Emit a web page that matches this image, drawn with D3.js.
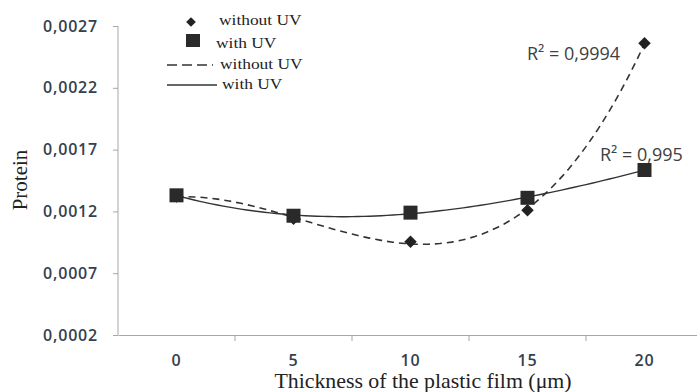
<!DOCTYPE html>
<html>
<head>
<meta charset="utf-8">
<script src="https://cdn.jsdelivr.net/npm/d3@7"></script>
<style>
  body { margin: 0; background: #fff; }
  svg { display: block; }
  .tick-lbl { font-family: "Open Sans", sans-serif; font-size: 16px; font-weight: 600; letter-spacing: 0.8px; fill: #33404f; }
  .r2 { font-family: "Open Sans", sans-serif; font-size: 18px; fill: #404040; }
  .serif { font-family: "Liberation Serif", "Times New Roman", serif; fill: #222; }
</style>
</head>
<body>
<svg id="chart" width="697" height="392"></svg>
<script>
const categories = ["0", "5", "10", "15", "20"];
const withoutUV = [0.00132, 0.00114, 0.000955, 0.00121, 0.00256];
const withUV = [0.00133, 0.001165, 0.00119, 0.00131, 0.001535];
const yTicks = [0.0002, 0.0007, 0.0012, 0.0017, 0.0022, 0.0027];
const r2Labels = ["R\u00b2 = 0,9994", "R\u00b2 = 0,995"];
const legendLabels = ["without UV", "with UV", "without UV", "with UV"];

const svg = d3.select("#chart");
const x = d3.scaleBand().domain(categories).range([118, 703]);
const y = d3.scaleLinear().domain([0.0002, 0.0027]).range([335, 26]);
const fmt = d => d.toFixed(4).replace(".", ",");
const axisColor = "#a6a6a6";

// y axis
const yAxis = svg.append("g").attr("transform", "translate(118,0)")
  .call(d3.axisLeft(y).tickValues(yTicks).tickFormat(fmt).tickSize(5).tickPadding(15));
yAxis.attr("font-size", null).attr("font-family", null);
yAxis.select(".domain").attr("stroke", axisColor).attr("d", "M0,26V335");
yAxis.selectAll(".tick line").attr("stroke", axisColor);
yAxis.selectAll("text").attr("class", "tick-lbl").attr("fill", null);

// x axis
const xAxis = svg.append("g").attr("transform", "translate(0,335)")
  .call(d3.axisBottom(x).tickSize(0).tickPadding(20));
xAxis.attr("font-size", null).attr("font-family", null);
xAxis.select(".domain").attr("stroke", axisColor);
xAxis.selectAll("text").attr("class", "tick-lbl").attr("fill", null)
  .attr("y", 31).attr("dy", null);
svg.append("g").selectAll("line")
  .data(categories.slice(1)).join("line")
  .attr("x1", d => x(d)).attr("x2", d => x(d))
  .attr("y1", 335).attr("y2", 341)
  .attr("stroke", axisColor);

// polynomial trend (least squares, order 3, x = 1..n like a spreadsheet trendline)
function polyFit(vals, order) {
  const n = order + 1;
  const A = Array.from({length: n}, () => new Array(n + 1).fill(0));
  vals.forEach((v, i) => {
    const xi = i + 1;
    for (let r = 0; r < n; r++) {
      for (let c = 0; c < n; c++) A[r][c] += Math.pow(xi, r + c);
      A[r][n] += v * Math.pow(xi, r);
    }
  });
  for (let i = 0; i < n; i++) {
    let p = i;
    for (let k = i + 1; k < n; k++) if (Math.abs(A[k][i]) > Math.abs(A[p][i])) p = k;
    [A[i], A[p]] = [A[p], A[i]];
    for (let k = i + 1; k < n; k++) {
      const f = A[k][i] / A[i][i];
      for (let c = i; c <= n; c++) A[k][c] -= f * A[i][c];
    }
  }
  const coef = new Array(n).fill(0);
  for (let i = n - 1; i >= 0; i--) {
    let s = A[i][n];
    for (let c = i + 1; c < n; c++) s -= A[i][c] * coef[c];
    coef[i] = s / A[i][i];
  }
  return t => coef.reduce((acc, c, k) => acc + c * Math.pow(t, k), 0);
}

const px = t => x(categories[0]) + x.bandwidth() / 2 + (t - 1) * x.step();
function trend(vals) {
  const f = polyFit(vals, 3);
  return d3.range(1, vals.length + 0.001, 0.05).map(t => [px(t), y(f(t))]);
}
const line = d3.line();

svg.append("path").attr("d", line(trend(withoutUV)))
  .attr("fill", "none").attr("stroke", "#333").attr("stroke-width", 1.6)
  .attr("stroke-dasharray", "7,5");
svg.append("path").attr("d", line(trend(withUV)))
  .attr("fill", "none").attr("stroke", "#333").attr("stroke-width", 1.4);

const cx = d => x(d) + x.bandwidth() / 2;

svg.append("g").selectAll("path")
  .data(withoutUV).join("path")
  .attr("transform", (d, i) => `translate(${cx(categories[i])},${y(d)})`)
  .attr("d", d3.symbol(d3.symbolDiamond2, 100))
  .attr("fill", "#222");

svg.append("g").selectAll("rect")
  .data(withUV).join("rect")
  .attr("x", (d, i) => cx(categories[i]) - 7)
  .attr("y", d => y(d) - 7)
  .attr("width", 14).attr("height", 14)
  .attr("fill", "#2a2a2a");

// R² labels
svg.append("text").attr("class", "r2").attr("x", 527).attr("y", 60).text(r2Labels[0]);
svg.append("text").attr("class", "r2").attr("x", 600).attr("y", 161).text(r2Labels[1]);

// axis titles
svg.append("text").attr("class", "serif").style("font-size", "21px")
  .attr("transform", "translate(27,180) rotate(-90)")
  .attr("text-anchor", "middle").text("Protein");
svg.append("text").attr("class", "serif").style("font-size", "21px")
  .attr("transform", "translate(423,388) scale(1.04,1)")
  .attr("text-anchor", "middle")
  .text("Thickness of the plastic film (\u03bcm)");

// legend
const lg = svg.append("g").attr("class", "serif").style("font-size", "15px");
const legText = (tx, ty, s) => lg.append("text")
  .attr("transform", `translate(${tx},${ty}) scale(1.16,1)`).text(s);
lg.append("path").attr("transform", "translate(191,22)")
  .attr("d", d3.symbol(d3.symbolDiamond2, 60)).attr("fill", "#222");
legText(219, 25, legendLabels[0]);
lg.append("rect").attr("x", 186).attr("y", 34).attr("width", 14).attr("height", 13).attr("fill", "#2a2a2a");
legText(216, 48, legendLabels[1]);
lg.append("line").attr("x1", 167).attr("x2", 213).attr("y1", 65).attr("y2", 65)
  .attr("stroke", "#333").attr("stroke-width", 1.6).attr("stroke-dasharray", "10,5");
legText(220, 69, legendLabels[2]);
lg.append("line").attr("x1", 167).attr("x2", 217).attr("y1", 85).attr("y2", 85)
  .attr("stroke", "#333").attr("stroke-width", 1.5);
legText(222, 89, legendLabels[3]);
</script>
</body>
</html>
